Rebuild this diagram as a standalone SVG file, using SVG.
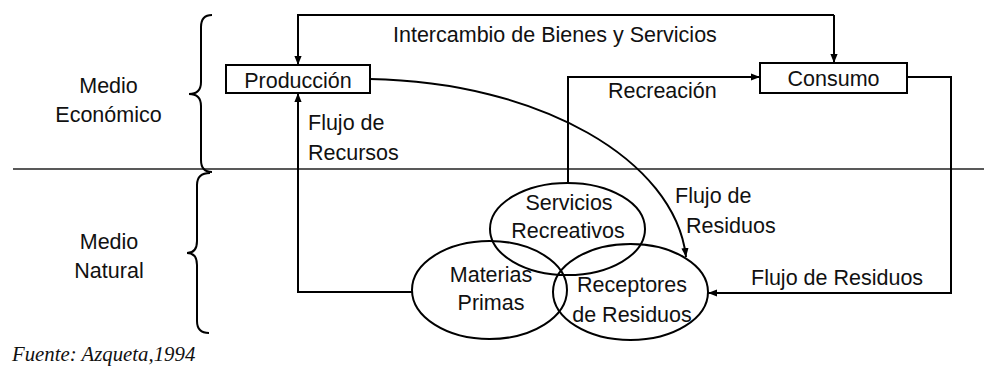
<svg xmlns="http://www.w3.org/2000/svg" width="984" height="367" viewBox="0 0 984 367">
<defs>
<marker id="ah" viewBox="0 0 10 10" refX="10" refY="5" markerWidth="9" markerHeight="9" markerUnits="userSpaceOnUse" orient="auto">
<path d="M0,1 L10,5 L0,9 z" fill="#000"/>
</marker>
<style>
text{font-family:"Liberation Sans",Arial,sans-serif;font-size:21.5px;fill:#111}
.m{text-anchor:middle}
.box{fill:#fff;stroke:#000;stroke-width:2}
.ell{fill:none;stroke:#000;stroke-width:2}
.c{fill:none;stroke:#000;stroke-width:2}
.br{fill:none;stroke:#000;stroke-width:2}
</style>
</defs>
<rect width="984" height="367" fill="#fff"/>
<line x1="13" y1="169" x2="984" y2="169" stroke="#222" stroke-width="1.6"/>
<g id="braces">
<path class="br" d="M212,15 Q201,15 201,27 L201,82 Q201,94 189,94 Q201,94 201,106 L201,160 Q201,172 212,172"/>
<path class="br" d="M210,173 Q197,173 197,185 L197,241 Q197,253 187,253 Q197,253 197,265 L197,321 Q197,333 209,333"/>
</g>
<g id="labels">
<text class="m" x="108.5" y="93">Medio</text>
<text class="m" x="108.5" y="122">Económico</text>
<text class="m" x="109" y="249">Medio</text>
<text class="m" x="109" y="278">Natural</text>
<text x="12" y="361" style="font-family:'Liberation Serif','Times New Roman',serif;font-style:italic;font-size:20.8px">Fuente: Azqueta,1994</text>
</g>
<g id="connectors">
<path class="c" d="M834,15 L298,15 L298,65" marker-end="url(#ah)"/>
<path class="c" d="M834,15 L834,63" marker-end="url(#ah)"/>
<path class="c" d="M412,292 L298,292 L298,93" marker-end="url(#ah)"/>
<path class="c" d="M568,183 L568,77 L760,77" marker-end="url(#ah)"/>
<path class="c" d="M907,77 L951,77 L951,293 L708,293" marker-end="url(#ah)"/>
<path class="c" d="M370,79 C540,82 675,160 686,257" marker-end="url(#ah)"/>
<text x="393" y="42">Intercambio de Bienes y Servicios</text>
<text x="608" y="98">Recreación</text>
<text x="308" y="130">Flujo de</text>
<text x="308" y="160">Recursos</text>
<text x="675" y="203">Flujo de</text>
<text x="686" y="233">Residuos</text>
<text x="751" y="285">Flujo de Residuos</text>
</g>
<g id="produccion">
<rect class="box" x="226" y="65" width="144" height="28"/>
<text class="m" x="298" y="88">Producción</text>
</g>
<g id="consumo">
<rect class="box" x="760" y="63" width="147" height="30"/>
<text class="m" x="833.5" y="86">Consumo</text>
</g>
<g id="servicios">
<ellipse class="ell" cx="567.5" cy="229" rx="77.5" ry="46"/>
<text class="m" x="569" y="210">Servicios</text>
<text class="m" x="568" y="238">Recreativos</text>
</g>
<g id="materias">
<ellipse class="ell" cx="489.5" cy="290" rx="77.5" ry="49"/>
<text class="m" x="491" y="282">Materias</text>
<text class="m" x="491" y="310">Primas</text>
</g>
<g id="receptores">
<ellipse class="ell" cx="630.5" cy="292" rx="77.5" ry="48"/>
<text class="m" x="632" y="292">Receptores</text>
<text class="m" x="632" y="322">de Residuos</text>
</g>
</svg>
